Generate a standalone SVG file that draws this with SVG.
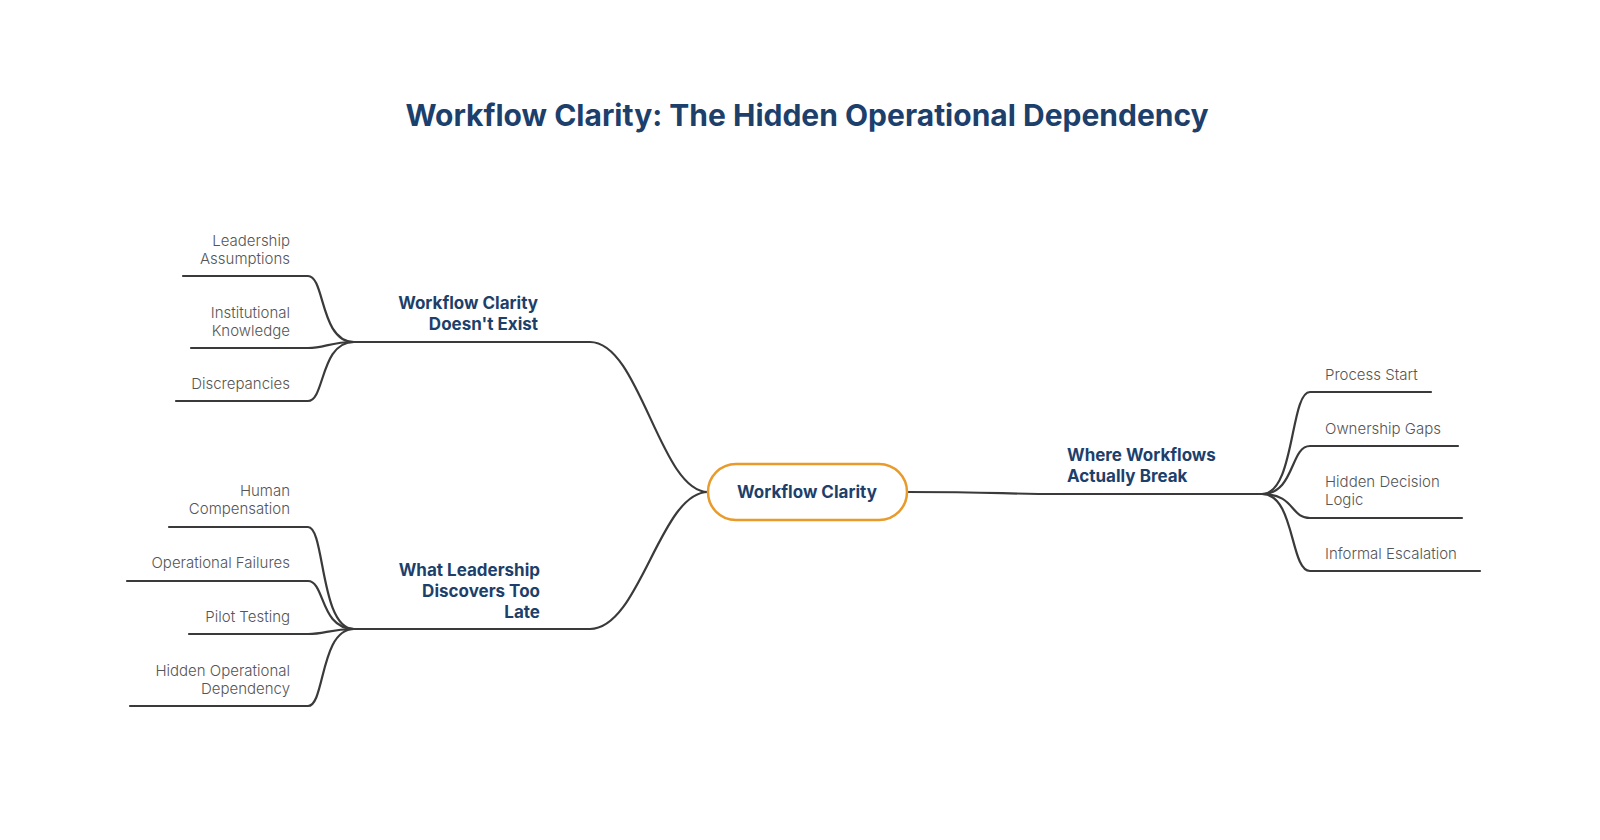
<svg xmlns="http://www.w3.org/2000/svg" width="1600" height="840" viewBox="0 0 1600 840">
<style>
.t{font-family:Inter,"Open Sans","Liberation Sans",sans-serif;font-size:30px;font-weight:700;fill:#1d3f6b}
.b{font-family:Inter,"Open Sans","Liberation Sans",sans-serif;font-size:17px;font-weight:700;fill:#1d3f6b}
.l{font-family:Inter,"Open Sans","Liberation Sans",sans-serif;font-size:15px;font-weight:300;fill:#555}
.c{fill:none;stroke:#3a3a3a;stroke-width:2.2;stroke-linecap:round}
</style>
<rect width="1600" height="840" fill="#fff"/>
<text class="t" x="807" y="126" text-anchor="middle">Workflow Clarity: The Hidden Operational Dependency</text>
<g id="connectors">
<path class="c" d="M708,492 C660,492 640,342 590,342 H354"/>
<path class="c" d="M708,492 C660,492 640,629 590,629 H354"/>
<path class="c" d="M907,492 C1000,492 1000,494 1060,494 H1262"/>
<path class="c" d="M354,342 C320,342 325,276 308,276 H183"/>
<path class="c" d="M354,342 C330,342 325,348 308,348 H191"/>
<path class="c" d="M354,342 C320,342 325,401 308,401 H176"/>
<path class="c" d="M354,629 C320,629 325,527 308,527 H169"/>
<path class="c" d="M354,629 C320,629 325,581 308,581 H127"/>
<path class="c" d="M354,629 C330,629 325,634 308,634 H189"/>
<path class="c" d="M354,629 C320,629 325,706 308,706 H130"/>
<path class="c" d="M1262,494 C1295,494 1290,392 1310,392 H1431"/>
<path class="c" d="M1262,494 C1295,494 1290,446 1310,446 H1458"/>
<path class="c" d="M1262,494 C1295,494 1290,518 1310,518 H1462"/>
<path class="c" d="M1262,494 C1295,494 1290,571 1310,571 H1480"/>
</g>
<g id="center"><rect x="708" y="464" width="199" height="56" rx="28" fill="#fff" stroke="#e89a2a" stroke-width="2.5"/><text class="b" x="807" y="498" text-anchor="middle">Workflow Clarity</text></g>
<g id="b1"><text class="b" x="538" y="309" text-anchor="end">Workflow Clarity</text><text class="b" x="538" y="330" text-anchor="end">Doesn't Exist</text></g>
<g id="b2"><text class="b" x="540" y="576" text-anchor="end">What Leadership</text><text class="b" x="540" y="597" text-anchor="end">Discovers Too</text><text class="b" x="540" y="618" text-anchor="end">Late</text></g>
<g id="b3"><text class="b" x="1067" y="461">Where Workflows</text><text class="b" x="1067" y="482">Actually Break</text></g>
<g id="n1"><text class="l" x="290" y="246" text-anchor="end">Leadership</text><text class="l" x="290" y="264" text-anchor="end">Assumptions</text></g>
<g id="n2"><text class="l" x="290" y="318" text-anchor="end">Institutional</text><text class="l" x="290" y="336" text-anchor="end">Knowledge</text></g>
<g id="n3"><text class="l" x="290" y="389" text-anchor="end">Discrepancies</text></g>
<g id="n4"><text class="l" x="290" y="496" text-anchor="end">Human</text><text class="l" x="290" y="514" text-anchor="end">Compensation</text></g>
<g id="n5"><text class="l" x="290" y="568" text-anchor="end">Operational Failures</text></g>
<g id="n6"><text class="l" x="290" y="622" text-anchor="end">Pilot Testing</text></g>
<g id="n7"><text class="l" x="290" y="676" text-anchor="end">Hidden Operational</text><text class="l" x="290" y="694" text-anchor="end">Dependency</text></g>
<g id="n8"><text class="l" x="1325" y="380">Process Start</text></g>
<g id="n9"><text class="l" x="1325" y="434">Ownership Gaps</text></g>
<g id="n10"><text class="l" x="1325" y="487">Hidden Decision</text><text class="l" x="1325" y="505">Logic</text></g>
<g id="n11"><text class="l" x="1325" y="559">Informal Escalation</text></g>
</svg>
